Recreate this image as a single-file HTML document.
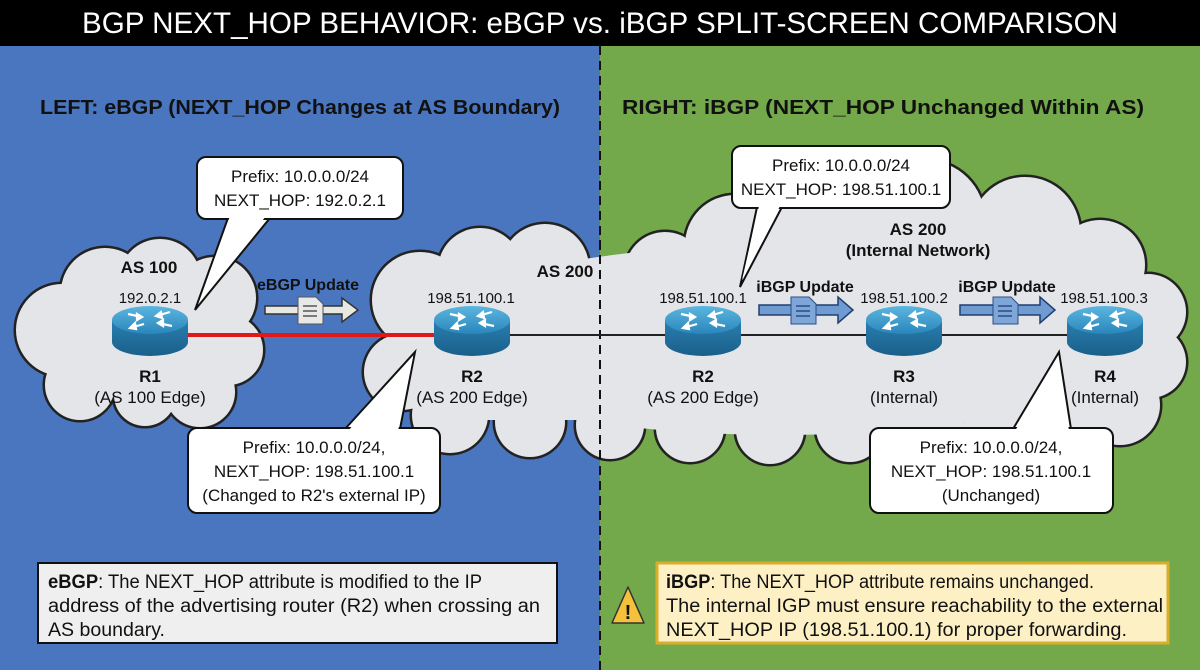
<!DOCTYPE html>
<html><head><meta charset="utf-8"><style>
html,body{margin:0;padding:0;width:1200px;height:670px;overflow:hidden}
svg{display:block;font-family:"Liberation Sans",Arial,sans-serif}
</style></head><body>
<svg width="1200" height="670" viewBox="0 0 1200 670" xmlns="http://www.w3.org/2000/svg">
<defs>
<linearGradient id="rt" x1="0" y1="0" x2="0" y2="1"><stop offset="0" stop-color="#5bb6e0"/><stop offset="1" stop-color="#2a86bb"/></linearGradient>
<linearGradient id="rb" x1="0" y1="0" x2="0" y2="1"><stop offset="0" stop-color="#2a7fb0"/><stop offset="1" stop-color="#1a5f8a"/></linearGradient>
<g id="router">
<path d="M-38,-8 L-38,14 A38,14 0 0 0 38,14 L38,-8 Z" fill="url(#rb)"/>
<ellipse cx="0" cy="-8" rx="38" ry="14" fill="url(#rt)"/>
<g stroke="#fff" stroke-width="2.2" fill="#fff">
<path d="M-22,-14 L-8,-11" fill="none"/><path d="M-8,-11 l-5,-3 l0,6z"/>
<path d="M22,-2 L8,-5" fill="none"/><path d="M8,-5 l5,3 l0,-6z"/>
<path d="M6,-12 L20,-16" fill="none"/><path d="M6,-12 l5,-4 l1,6z"/>
<path d="M-6,-4 L-20,0" fill="none"/><path d="M-20,0 l5,-5 l1,6z"/>
</g>
</g>
<g id="doc">
<path d="M0,0 L18,0 L25,7 L25,27 L0,27 Z" fill="#e8e8e8" stroke="#555" stroke-width="1"/>
<g stroke="#555" stroke-width="1.5"><line x1="5" y1="9" x2="19" y2="9"/><line x1="5" y1="14" x2="19" y2="14"/><line x1="5" y1="19" x2="19" y2="19"/></g>
</g>
<g id="docb">
<path d="M0,0 L18,0 L25,7 L25,27 L0,27 Z" fill="#7fa6d8" stroke="#2b4f85" stroke-width="1"/>
<g stroke="#2b4f85" stroke-width="1.5"><line x1="5" y1="9" x2="19" y2="9"/><line x1="5" y1="14" x2="19" y2="14"/><line x1="5" y1="19" x2="19" y2="19"/></g>
</g>
<g id="c1">
<circle cx="62" cy="330" r="46"/><circle cx="105" cy="292" r="44"/><circle cx="160" cy="280" r="41"/><circle cx="215" cy="298" r="41"/><circle cx="228" cy="350" r="35"/><circle cx="200" cy="392" r="35"/><circle cx="145" cy="395" r="31"/><circle cx="80" cy="385" r="35"/>
</g>
<g id="c2">
<circle cx="420" cy="300" r="48"/><circle cx="480" cy="270" r="42"/><circle cx="545" cy="268" r="44"/><circle cx="402" cy="372" r="38"/><circle cx="450" cy="415" r="38"/><circle cx="530" cy="422" r="35"/>
<circle cx="612" cy="298" r="40"/><circle cx="665" cy="272" r="40"/><circle cx="735" cy="245" r="50"/><circle cx="825" cy="228" r="55"/><circle cx="925" cy="220" r="60"/><circle cx="1025" cy="232" r="55"/><circle cx="1100" cy="265" r="45"/><circle cx="1148" cy="312" r="38"/><circle cx="1150" cy="362" r="36"/><circle cx="1120" cy="405" r="40"/><circle cx="1055" cy="430" r="33"/>
<circle cx="610" cy="425" r="34"/><circle cx="690" cy="428" r="34"/><circle cx="770" cy="430" r="34"/><circle cx="850" cy="428" r="34"/><circle cx="930" cy="426" r="34"/><circle cx="995" cy="430" r="32"/>
</g>
</defs>
<rect x="0" y="0" width="600" height="670" fill="#4a76c0"/>
<rect x="600" y="0" width="600" height="670" fill="#73a84b"/>
<rect x="0" y="0" width="1200" height="46" fill="#000"/>
<text x="600" y="33" fill="#fff" font-size="30" text-anchor="middle" textLength="1036" lengthAdjust="spacingAndGlyphs">BGP NEXT_HOP BEHAVIOR: eBGP vs. iBGP SPLIT-SCREEN COMPARISON</text>
<line x1="600" y1="46" x2="600" y2="670" stroke="#111" stroke-width="2" stroke-dasharray="9,6"/>
<text x="40" y="114" font-size="20" font-weight="bold" fill="#111" textLength="520" lengthAdjust="spacingAndGlyphs">LEFT: eBGP (NEXT_HOP Changes at AS Boundary)</text>
<text x="622" y="114" font-size="20" font-weight="bold" fill="#111" textLength="522" lengthAdjust="spacingAndGlyphs">RIGHT: iBGP (NEXT_HOP Unchanged Within AS)</text>

<use href="#c1" stroke="#222" stroke-width="5" fill="#e4e5e8"/>
<use href="#c2" stroke="#222" stroke-width="5" fill="#e4e5e8"/>
<use href="#c1" fill="#e4e5e8"/>
<ellipse cx="145" cy="340" rx="95" ry="60" fill="#e4e5e8"/>
<use href="#c2" fill="#e4e5e8"/>
<ellipse cx="780" cy="340" rx="375" ry="95" fill="#e4e5e8"/>
<ellipse cx="900" cy="262" rx="210" ry="45" fill="#e4e5e8"/>
<rect x="430" y="270" width="700" height="150" fill="#e4e5e8"/>
<line x1="600" y1="240" x2="600" y2="462" stroke="#111" stroke-width="2" stroke-dasharray="9,6"/>

<line x1="188" y1="335" x2="436" y2="335" stroke="#e01818" stroke-width="4"/>
<line x1="510" y1="335" x2="1068" y2="335" stroke="#222" stroke-width="2"/>

<use href="#router" x="150" y="328"/>
<use href="#router" x="472" y="328"/>
<use href="#router" x="703" y="328"/>
<use href="#router" x="904" y="328"/>
<use href="#router" x="1105" y="328"/>

<g font-size="15" fill="#111" text-anchor="middle">
<text x="150" y="303">192.0.2.1</text>
<text x="471" y="303">198.51.100.1</text>
<text x="703" y="303">198.51.100.1</text>
<text x="904" y="303">198.51.100.2</text>
<text x="1104" y="303">198.51.100.3</text>
</g>
<g font-size="17" font-weight="bold" fill="#111" text-anchor="middle">
<text x="149" y="273">AS 100</text>
<text x="565" y="277">AS 200</text>
<text x="918" y="235">AS 200</text>
<text x="918" y="256">(Internal Network)</text>
<text x="150" y="382">R1</text><text x="472" y="382">R2</text><text x="703" y="382">R2</text><text x="904" y="382">R3</text><text x="1105" y="382">R4</text>
<text x="308" y="290" font-size="16">eBGP Update</text>
<text x="805" y="292" font-size="16">iBGP Update</text>
<text x="1007" y="292" font-size="16">iBGP Update</text>
</g>
<g font-size="17" fill="#111" text-anchor="middle">
<text x="150" y="403">(AS 100 Edge)</text><text x="472" y="403">(AS 200 Edge)</text><text x="703" y="403">(AS 200 Edge)</text><text x="904" y="403">(Internal)</text><text x="1105" y="403">(Internal)</text>
</g>

<path d="M265,306 L342,306 L342,298 L358,310 L342,322 L342,314 L265,314 Z" fill="#e8e8e2" stroke="#333" stroke-width="1.5"/>
<use href="#doc" x="298" y="297"/>
<path d="M759,305 L838,305 L838,297 L853,310 L838,323 L838,315 L759,315 Z" fill="#6f9bd2" stroke="#1f3f70" stroke-width="1.5"/>
<use href="#docb" x="791" y="297"/>
<path d="M960,305 L1040,305 L1040,297 L1055,310 L1040,323 L1040,315 L960,315 Z" fill="#6f9bd2" stroke="#1f3f70" stroke-width="1.5"/>
<use href="#docb" x="993" y="297"/>

<g stroke="#111" stroke-width="2" fill="#fff">
<path d="M228,218 L195,310 L270,218 Z"/>
<rect x="197" y="157" width="206" height="62" rx="9"/>
<path d="M345,429 L415,352 L400,429 Z"/>
<rect x="188" y="428" width="252" height="85" rx="9"/>
<path d="M757,207 L740,287 L782,207 Z"/>
<rect x="732" y="146" width="218" height="62" rx="9"/>
<path d="M1013,429 L1059,352 L1071,429 Z"/>
<rect x="870" y="428" width="243" height="85" rx="9"/>
</g>
<g fill="#fff">
<path d="M230,216 L200,300 L266,216 Z"/>
<path d="M348,431 L413,357 L398,431 Z"/>
<path d="M759,206 L742,280 L780,206 Z"/>
<path d="M1015,431 L1058,358 L1069,431 Z"/>
</g>
<g font-size="17" fill="#111" text-anchor="middle">
<text x="300" y="182">Prefix: 10.0.0.0/24</text>
<text x="300" y="206">NEXT_HOP: 192.0.2.1</text>
<text x="314" y="453">Prefix: 10.0.0.0/24,</text>
<text x="314" y="477">NEXT_HOP: 198.51.100.1</text>
<text x="314" y="501">(Changed to R2's external IP)</text>
<text x="841" y="171">Prefix: 10.0.0.0/24</text>
<text x="841" y="195">NEXT_HOP: 198.51.100.1</text>
<text x="991" y="453">Prefix: 10.0.0.0/24,</text>
<text x="991" y="477">NEXT_HOP: 198.51.100.1</text>
<text x="991" y="501">(Unchanged)</text>
</g>

<rect x="38" y="563" width="519" height="80" fill="#efefef" stroke="#111" stroke-width="2"/>
<g font-size="19" fill="#111">
<text x="48" y="588" textLength="434" lengthAdjust="spacingAndGlyphs"><tspan font-weight="bold">eBGP</tspan>: The NEXT_HOP attribute is modified to the IP</text>
<text x="48" y="612" textLength="492" lengthAdjust="spacingAndGlyphs">address of the advertising router (R2) when crossing an</text>
<text x="48" y="636" textLength="117" lengthAdjust="spacingAndGlyphs">AS boundary.</text>
</g>
<rect x="657" y="563" width="511" height="80" fill="#fdf0c4" stroke="#d9ae2a" stroke-width="3"/>
<g font-size="19" fill="#111">
<text x="666" y="588" textLength="428" lengthAdjust="spacingAndGlyphs"><tspan font-weight="bold">iBGP</tspan>: The NEXT_HOP attribute remains unchanged.</text>
<text x="666" y="612" textLength="497" lengthAdjust="spacingAndGlyphs">The internal IGP must ensure reachability to the external</text>
<text x="666" y="636" textLength="461" lengthAdjust="spacingAndGlyphs">NEXT_HOP IP (198.51.100.1) for proper forwarding.</text>
</g>
<path d="M628,587 L644,623 L612,623 Z" fill="#f5c13a" stroke="#333" stroke-width="1.5" stroke-linejoin="round"/>
<text x="628" y="619" font-size="20" font-weight="bold" text-anchor="middle" fill="#111">!</text>
</svg>
</body></html>
